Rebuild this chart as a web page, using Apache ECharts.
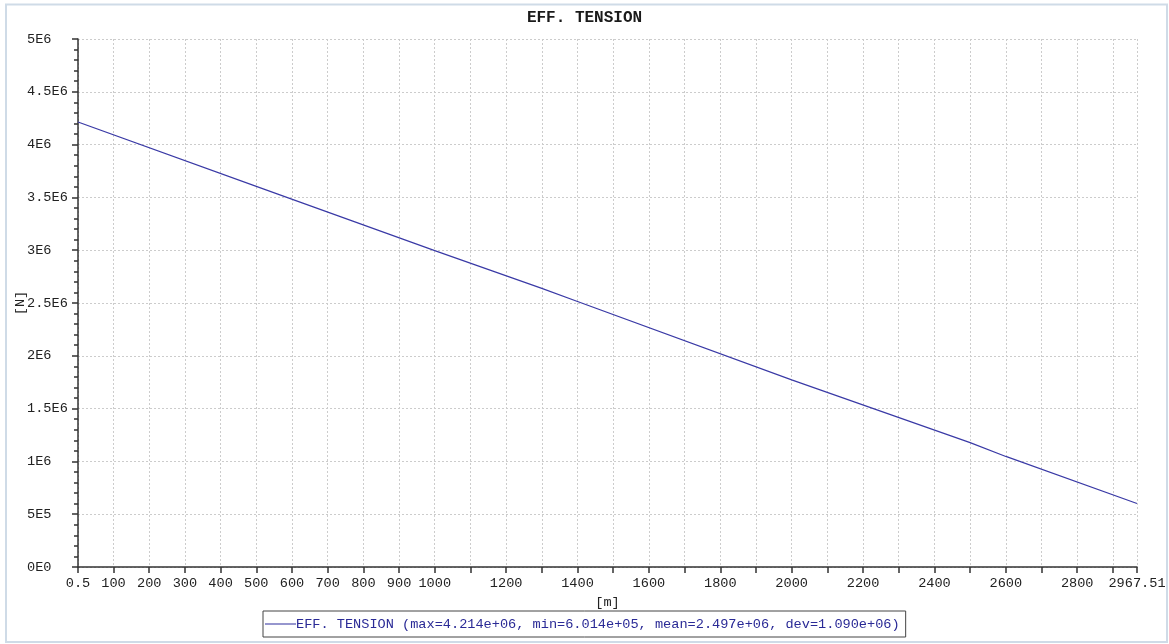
<!DOCTYPE html>
<html>
<head>
<meta charset="utf-8">
<script src="https://cdn.jsdelivr.net/npm/echarts@6/dist/echarts.min.js"></script>
<style>
  html, body { margin: 0; padding: 0; background: #ffffff; }
  #chart { width: 1169px; height: 644px; }
</style>
</head>
<body>
<div id="chart"></div>
<script>
const chartTitle = 'EFF. TENSION';
const seriesName = 'EFF. TENSION';
const seriesStats = '(max=4.214e+06, min=6.014e+05, mean=2.497e+06, dev=1.090e+06)';
const xAxisName = '[m]';
const yAxisName = '[N]';

const distance = [0.5, 500, 1000, 1300, 1400, 2000, 2500, 2600, 2967.51];
const tension = [4.214e6, 3.605e6, 2.996e6, 2.638e6, 2.514e6, 1.772e6, 1.178e6, 1.047e6, 6.014e5];

const xTickValues = [0.5, 100, 200, 300, 400, 500, 600, 700, 800, 900, 1000,
  1100, 1200, 1300, 1400, 1500, 1600, 1700, 1800, 1900, 2000,
  2100, 2200, 2300, 2400, 2500, 2600, 2700, 2800, 2900, 2967.51];
const xLabelValues = [0.5, 100, 200, 300, 400, 500, 600, 700, 800, 900, 1000,
  1200, 1400, 1600, 1800, 2000, 2200, 2400, 2600, 2800, 2967.51];
const yTickLabels = ['0E0', '5E5', '1E6', '1.5E6', '2E6', '2.5E6', '3E6', '3.5E6', '4E6', '4.5E6', '5E6'];

const FONT = '"Liberation Mono", "Courier New", monospace';

const chart = echarts.init(document.getElementById('chart'), null, { renderer: 'canvas' });
chart.setOption({
  animation: false,
  backgroundColor: '#ffffff',
  graphic: [{
    type: 'rect',
    silent: true,
    shape: { x: 6, y: 4.5, width: 1161, height: 637.5 },
    style: { fill: 'none', stroke: '#cfdbe7', lineWidth: 2 }
  }],
  title: {
    text: chartTitle,
    left: 'center',
    top: 5,
    textStyle: { fontFamily: FONT, fontWeight: 'bold', fontSize: 16, color: '#1a1a1a' }
  },
  grid: { left: 78, right: 32, top: 39, bottom: 77, containLabel: false, outerBoundsMode: 'none' },
  legend: {
    left: 263,
    top: 611,
    orient: 'horizontal',
    padding: [6, 6, 6, 2],
    borderColor: '#444',
    borderWidth: 1,
    itemWidth: 31,
    itemHeight: 14,
    formatter: function (name) { return name + ' ' + seriesStats; },
    textStyle: { fontFamily: FONT, fontSize: 13.6, color: '#2a2a96', padding: [0, 0, 0, -5] },
    data: [{ name: seriesName, icon: 'path://M0,0 L31,0 L31,1 L0,1 Z', itemStyle: { color: '#2c2c9c' } }]
  },
  xAxis: {
    type: 'value',
    min: 0.5,
    max: 2967.51,
    name: xAxisName,
    nameLocation: 'middle',
    nameGap: 28,
    nameMoveOverlap: false,
    nameTextStyle: { fontFamily: FONT, fontSize: 13.6, color: '#222' },
    axisLine: { show: true, onZero: false, lineStyle: { color: '#333', width: 1.5 } },
    axisTick: { show: true, length: 6, lineStyle: { color: '#333', width: 1.5 }, customValues: xTickValues },
    axisLabel: {
      fontFamily: FONT, fontSize: 13.6, color: '#222', margin: 9,
      customValues: xLabelValues,
      showMinLabel: true, showMaxLabel: true,
      formatter: function (v) { return String(Math.round(v * 100) / 100); }
    },
    splitLine: { show: true, lineStyle: { color: '#cccccc', type: [2, 2], width: 1 } }
  },
  yAxis: {
    type: 'value',
    min: 0,
    max: 5e6,
    interval: 5e5,
    name: yAxisName,
    nameLocation: 'middle',
    nameGap: 51,
    nameMoveOverlap: false,
    nameRotate: 90,
    nameTextStyle: { fontFamily: FONT, fontSize: 13.6, color: '#222' },
    axisLine: { show: true, onZero: false, lineStyle: { color: '#333', width: 1.5 } },
    axisTick: { show: true, length: 6, lineStyle: { color: '#333', width: 1.5 } },
    minorTick: { show: true, splitNumber: 5, length: 4, lineStyle: { color: '#333', width: 1.5 } },
    axisLabel: {
      fontFamily: FONT, fontSize: 13.6, color: '#222', margin: 51, align: 'left',
      formatter: function (v) { return yTickLabels[Math.round(v / 5e5)]; }
    },
    splitLine: { show: true, lineStyle: { color: '#cccccc', type: [2, 2], width: 1 } }
  },
  series: [{
    name: seriesName,
    type: 'line',
    data: distance.map(function (d, i) { return [d, tension[i]]; }),
    symbol: 'none',
    lineStyle: { color: '#3a3aa6', width: 1.2 },
    itemStyle: { color: '#3a3aa6' }
  }]
});
</script>
</body>
</html>
